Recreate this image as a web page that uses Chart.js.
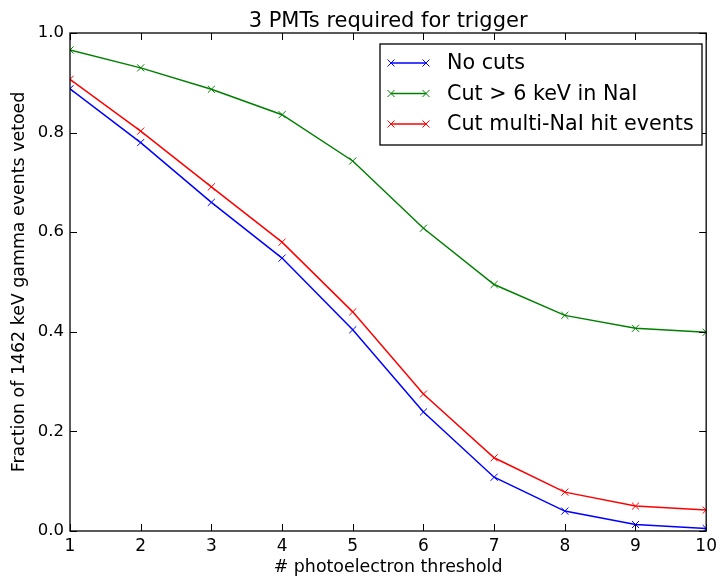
<!DOCTYPE html>
<html>
<head>
<meta charset="utf-8">
<script src="https://cdn.jsdelivr.net/npm/chart.js@4"></script>
<style>
  html, body { margin: 0; padding: 0; background: #fff; }
  #wrap { width: 722px; height: 578px; }
</style>
</head>
<body>
<div id="wrap"><canvas id="vetoChart" width="722" height="578"></canvas></div>
<script>
    const thresholds = [1, 2, 3, 4, 5, 6, 7, 8, 9, 10];
    const noCuts = [0.888, 0.780, 0.660, 0.548, 0.404, 0.239, 0.108, 0.040, 0.013, 0.005];
    const cutNaI = [0.966, 0.930, 0.887, 0.836, 0.743, 0.608, 0.495, 0.433, 0.407, 0.399];
    const cutMulti = [0.907, 0.803, 0.691, 0.580, 0.440, 0.275, 0.147, 0.078, 0.050, 0.042];
    const yTickLabels = ['0.0', '0.2', '0.4', '0.6', '0.8', '1.0'];
    const seriesNames = ['No cuts', 'Cut > 6 keV in NaI', 'Cut multi-NaI hit events'];
    const seriesColors = ['#0000ff', '#008000', '#ff0000'];

    const FONT = '"DejaVu Sans", sans-serif';

    function toPoints(values) {
        return thresholds.map((x, i) => ({ x: x, y: values[i] }));
    }

    function lineSet(label, values, color) {
        return {
            label: label,
            data: toPoints(values),
            borderColor: color,
            backgroundColor: color,
            borderWidth: 1.5,
            pointStyle: 'crossRot',
            pointRadius: 5,
            pointBorderWidth: 1,
            pointHoverRadius: 5,
            tension: 0,
            fill: false
        };
    }

    // frame, inward ticks on all four sides, title and the boxed legend
    const framePlugin = {
        id: 'frame',
        afterDatasetsDraw(chart) {
            const ctx = chart.ctx;
            const a = chart.chartArea;
            const xs = chart.scales.x, ys = chart.scales.y;
            ctx.save();
            ctx.strokeStyle = '#000';
            ctx.lineWidth = 1;
            ctx.beginPath();
            thresholds.forEach(v => {
                const px = Math.round(xs.getPixelForValue(v)) + 0.5;
                ctx.moveTo(px, a.bottom); ctx.lineTo(px, a.bottom - 7);
                ctx.moveTo(px, a.top); ctx.lineTo(px, a.top + 7);
            });
            yTickLabels.forEach(t => {
                const py = Math.round(ys.getPixelForValue(parseFloat(t))) + 0.5;
                ctx.moveTo(a.left, py); ctx.lineTo(a.left + 7, py);
                ctx.moveTo(a.right, py); ctx.lineTo(a.right - 7, py);
            });
            ctx.stroke();
            ctx.lineWidth = 1.3;
            ctx.strokeRect(a.left, a.top, a.right - a.left, a.bottom - a.top);

            // title
            ctx.fillStyle = '#000';
            ctx.font = '21px ' + FONT;
            ctx.textAlign = 'center';
            ctx.textBaseline = 'alphabetic';
            ctx.fillText('3 PMTs required for trigger', (a.left + a.right) / 2, 27);

            // legend
            const bx = 380, by = 44, bw = 322, bh = 101;
            ctx.fillStyle = '#fff';
            ctx.fillRect(bx, by, bw, bh);
            ctx.lineWidth = 1.3;
            ctx.strokeStyle = '#000';
            ctx.strokeRect(bx, by, bw, bh);
            ctx.font = '20.7px ' + FONT;
            ctx.textAlign = 'left';
            ctx.textBaseline = 'middle';
            seriesNames.forEach((name, i) => {
                const y = by + 19 + i * 30.5;
                const x0 = 391, x1 = 426;
                ctx.strokeStyle = seriesColors[i];
                ctx.lineWidth = 1.5;
                ctx.beginPath();
                ctx.moveTo(x0, y); ctx.lineTo(x1, y);
                ctx.stroke();
                ctx.lineWidth = 1;
                [x0, x1].forEach(cx => {
                    ctx.beginPath();
                    ctx.moveTo(cx - 3.5, y - 3.5); ctx.lineTo(cx + 3.5, y + 3.5);
                    ctx.moveTo(cx - 3.5, y + 3.5); ctx.lineTo(cx + 3.5, y - 3.5);
                    ctx.stroke();
                });
                ctx.fillStyle = '#000';
                ctx.fillText(name, 447, y + 1);
            });
            ctx.restore();
        }
    };

    document.addEventListener('DOMContentLoaded', function() {
        const ctx = document.getElementById('vetoChart').getContext('2d');

        new Chart(ctx, {
            type: 'line',
            data: {
                datasets: [
                    lineSet(seriesNames[0], noCuts, seriesColors[0]),
                    lineSet(seriesNames[1], cutNaI, seriesColors[1]),
                    lineSet(seriesNames[2], cutMulti, seriesColors[2])
                ]
            },
            options: {
                responsive: false,
                animation: false,
                layout: { padding: { top: 33, right: 11, left: 0, bottom: 0 } },
                plugins: {
                    legend: { display: false },
                    title: { display: false },
                    tooltip: { enabled: false }
                },
                scales: {
                    x: {
                        type: 'linear',
                        min: 1,
                        max: 10,
                        afterFit(scale) { scale.height = 47; },
                        grid: { display: false, drawTicks: false },
                        border: { display: false },
                        ticks: {
                            stepSize: 1,
                            padding: 5,
                            color: '#000',
                            font: { family: FONT, size: 17 }
                        },
                        title: {
                            display: true,
                            text: '# photoelectron threshold',
                            color: '#000',
                            font: { family: FONT, size: 17.4 },
                            padding: { top: 0, bottom: 0 }
                        }
                    },
                    y: {
                        min: 0,
                        max: 1,
                        afterFit(scale) { scale.width = 70; },
                        grid: { display: false, drawTicks: false },
                        border: { display: false },
                        ticks: {
                            stepSize: 0.2,
                            padding: 6,
                            color: '#000',
                            font: { family: FONT, size: 16.5 },
                            callback: (v) => yTickLabels[Math.round(v * 5)]
                        },
                        title: {
                            display: true,
                            text: 'Fraction of 1462 keV gamma events vetoed',
                            color: '#000',
                            font: { family: FONT, size: 17.4 },
                            padding: { top: 9, bottom: 0 }
                        }
                    }
                }
            },
            plugins: [framePlugin]
        });
    });
</script>
</body>
</html>
